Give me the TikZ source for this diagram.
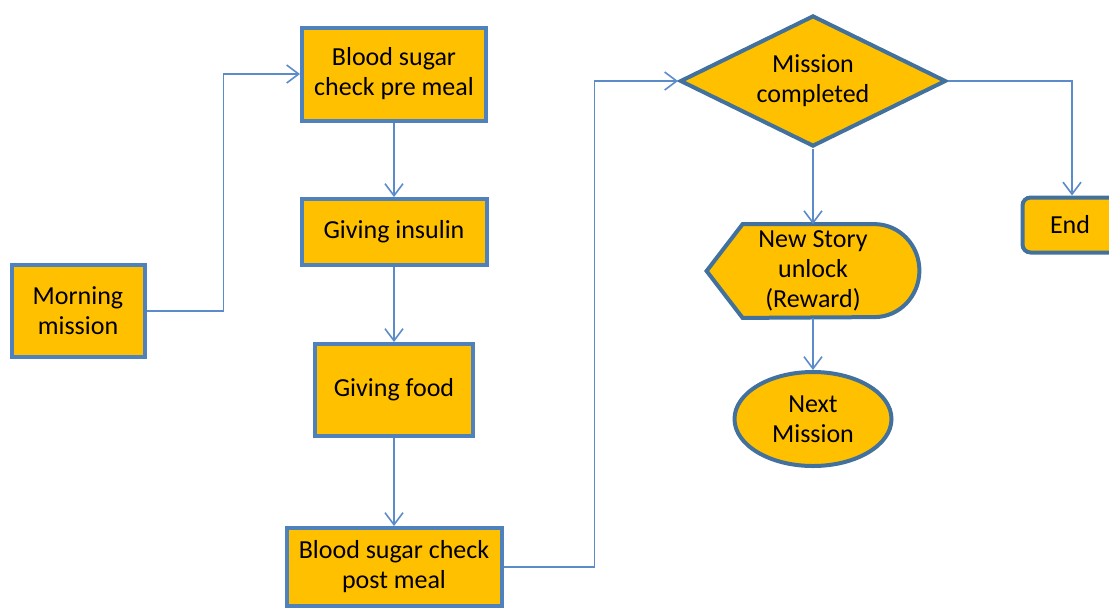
\documentclass[tikz,border=0pt]{standalone}
\usepackage{fontspec}
\setmainfont{Carlito}
\usetikzlibrary{calc, positioning, shapes.geometric, arrows.meta, backgrounds}
\definecolor{boxfill}{HTML}{FFC000}
\definecolor{boxline}{HTML}{4F81BD}
\definecolor{darkline}{HTML}{41719C}
\definecolor{linkline}{HTML}{5B8BC8}

\begin{document}
\begin{tikzpicture}[x=0.5pt, y=-0.5pt,
	every node/.style={font=\fontsize{13}{15}\selectfont, align=center, inner sep=0pt},
	task/.style={rectangle, draw=boxline, fill=boxfill, line width=2pt},
	test/.style={diamond, draw=darkline, fill=boxfill, line width=2pt, aspect=2.03},
	link/.style={draw=linkline, line width=0.8pt, -{Straight Barb[length=6pt,width=9pt]}}]
			\useasboundingbox (0,0) rectangle (1109,607);

			\node[task, minimum width=66.5pt, minimum height=46pt] (morning) at (78,311) {Morning\\mission};
			\node[task, minimum width=92pt, minimum height=46.5pt] (pre) at (394,74) {Blood sugar\\check pre meal};
			\node[task, minimum width=92.5pt, minimum height=33pt] (insulin) at (394,232) {Giving insulin};
			\node[task, minimum width=79pt, minimum height=46pt] (food) at (394,390) {Giving food};
			\node[task, minimum width=107.5pt, minimum height=39pt] (post) at (394,567) {Blood sugar check\\post meal};
			\node[test, minimum width=133pt, minimum height=65.5pt] (mission) at (813,81) {Mission\\completed};
			\node[minimum width=106pt, minimum height=46.5pt] (story) at (813,271) {New Story\\unlock\\(Reward)};
			\node[ellipse, draw=darkline, fill=boxfill, line width=2pt, minimum width=78.5pt, minimum height=47pt] (next) at (813,419) {Next\\Mission};
			\node[rectangle, rounded corners=4pt, draw=darkline, fill=boxfill, line width=2pt, minimum width=47.5pt, minimum height=27.5pt] (end) at (1070,225) {End};

			% display shape behind the reward text
			\begin{scope}[on background layer]
				\draw[darkline, fill=boxfill, line width=2pt]
					($(story.north west)+(18pt,0)$) -- ($(story.north east)+(-22.5pt,0)$)
					arc[start angle=90, end angle=-90, x radius=22.5pt, y radius=23.25pt]
					-- ($(story.south west)+(18pt,0)$) -- (story.west) -- cycle;
			\end{scope}

			\draw[link] (morning.east) -- ++(77,0) |- (pre.west);
			\draw[link] (pre) -- (insulin);
			\draw[link] (insulin) -- (food);
			\draw[link] (food) -- (post);
			\draw[link] (post.east) -- ++(91,0) |- (mission.west);
			\draw[link] (mission.south) -- (story.north);
			\draw[link] (mission.east) -| ([xshift=1pt]end.north);
			\draw[link] (story.south) -- (next.north);
		\end{tikzpicture}
\end{document}
